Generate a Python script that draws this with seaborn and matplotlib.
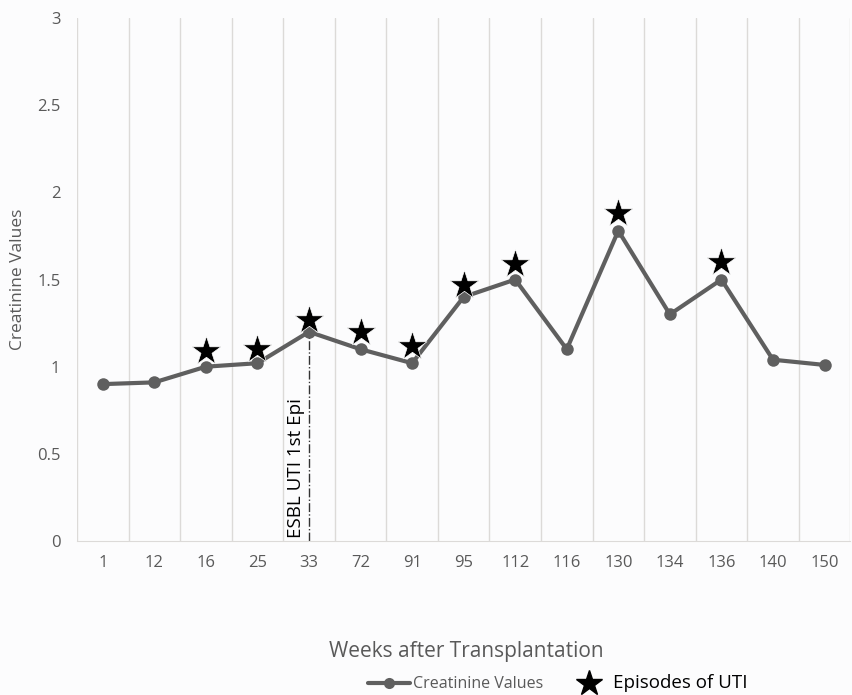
import numpy as np
import pandas as pd
import matplotlib.pyplot as plt
import seaborn as sns
from matplotlib.lines import Line2D

# Data
weeks = ["1", "12", "16", "25", "33", "72", "91", "95", "112", "116", "130", "134", "136", "140", "150"]
creatinine = [0.90, 0.91, 1.00, 1.02, 1.20, 1.10, 1.02, 1.40, 1.50, 1.10, 1.78, 1.30, 1.50, 1.04, 1.01]
uti_weeks = ["16", "25", "33", "72", "91", "95", "112", "130", "136"]
uti_marks = [1.09, 1.10, 1.27, 1.20, 1.12, 1.47, 1.59, 1.88, 1.60]
esbl_week = "33"
esbl_label = "ESBL UTI 1st Epi"

sns.set_style("white")
plt.rcParams['font.family'] = ['Open Sans', 'DejaVu Sans']

df = pd.DataFrame({"week": weeks, "value": creatinine})
df_uti = pd.DataFrame({"week": uti_weeks, "value": uti_marks})

fig = plt.figure(figsize=(8.52, 6.95), dpi=100)
fig.patch.set_facecolor("#fcfcfd")
ax = fig.add_axes([0.0904, 0.2216, 0.9076, 0.7524])
ax.set_facecolor("#fcfcfd")

line_col = "#5f5f5f"
sns.lineplot(data=df, x="week", y="value", ax=ax, color=line_col, lw=3,
             marker="o", markersize=9, markeredgewidth=0, sort=False, zorder=3)
sns.scatterplot(data=df_uti, x="week", y="value", ax=ax, marker="*", s=480,
                color="black", edgecolor="white", linewidth=0.5, zorder=4)

# ESBL marker line
xi = weeks.index(esbl_week)
yi = creatinine[xi]
ax.plot([xi, xi], [0, yi], color="#333333", lw=1, ls="-.", zorder=2)
ax.text(xi - 0.08, 0.02, esbl_label, rotation=90, ha="right", va="bottom",
        fontsize=13.5, color="black")

ax.set_xlim(-0.5, len(weeks) - 0.5)
ax.set_ylim(0, 3)
ax.set_yticks([0, 0.5, 1, 1.5, 2, 2.5, 3])
ax.set_yticklabels(["0", "0.5", "1", "1.5", "2", "2.5", "3"])

# vertical gridlines at category boundaries
for b in np.arange(-0.5, len(weeks), 1):
    ax.axvline(b, color="#dcdad8", lw=1, zorder=1)
ax.set_xticks(np.arange(-0.5, len(weeks), 1), minor=True)
ax.tick_params(axis="x", which="minor", length=5, color="#dcdad8", width=1)
ax.tick_params(axis="x", which="major", length=0, pad=10, labelsize=12, labelcolor="#595959")
ax.tick_params(axis="y", length=0, pad=12, labelsize=12, labelcolor="#595959")

for s in ["top", "right", "left"]:
    ax.spines[s].set_visible(False)
ax.spines["bottom"].set_color("#dcdad8")

ax.set_xlabel("")
ax.set_ylabel("Creatinine Values", fontsize=12.5, color="#595959", labelpad=8)
fig.text(0.547, 0.062, "Weeks after Transplantation", ha="center", va="center",
         fontsize=15, color="#595959")

handles = [
    Line2D([0], [0], color=line_col, lw=3, marker="o", markersize=8, markeredgewidth=0),
    Line2D([0], [0], color="black", lw=0, marker="*", markersize=19),
]
leg = fig.legend(handles, ["Creatinine Values", "Episodes of UTI"], loc="center",
                 bbox_to_anchor=(0.655, 0.017), ncol=2, frameon=False, fontsize=11.5,
                 handlelength=2.6, handletextpad=0.2, columnspacing=1.6)
leg.get_texts()[0].set_color("#595959")
leg.get_texts()[1].set_fontsize(13.5)
leg.get_texts()[1].set_color("black")

fig.savefig("out.png", dpi=100, facecolor=fig.get_facecolor())
